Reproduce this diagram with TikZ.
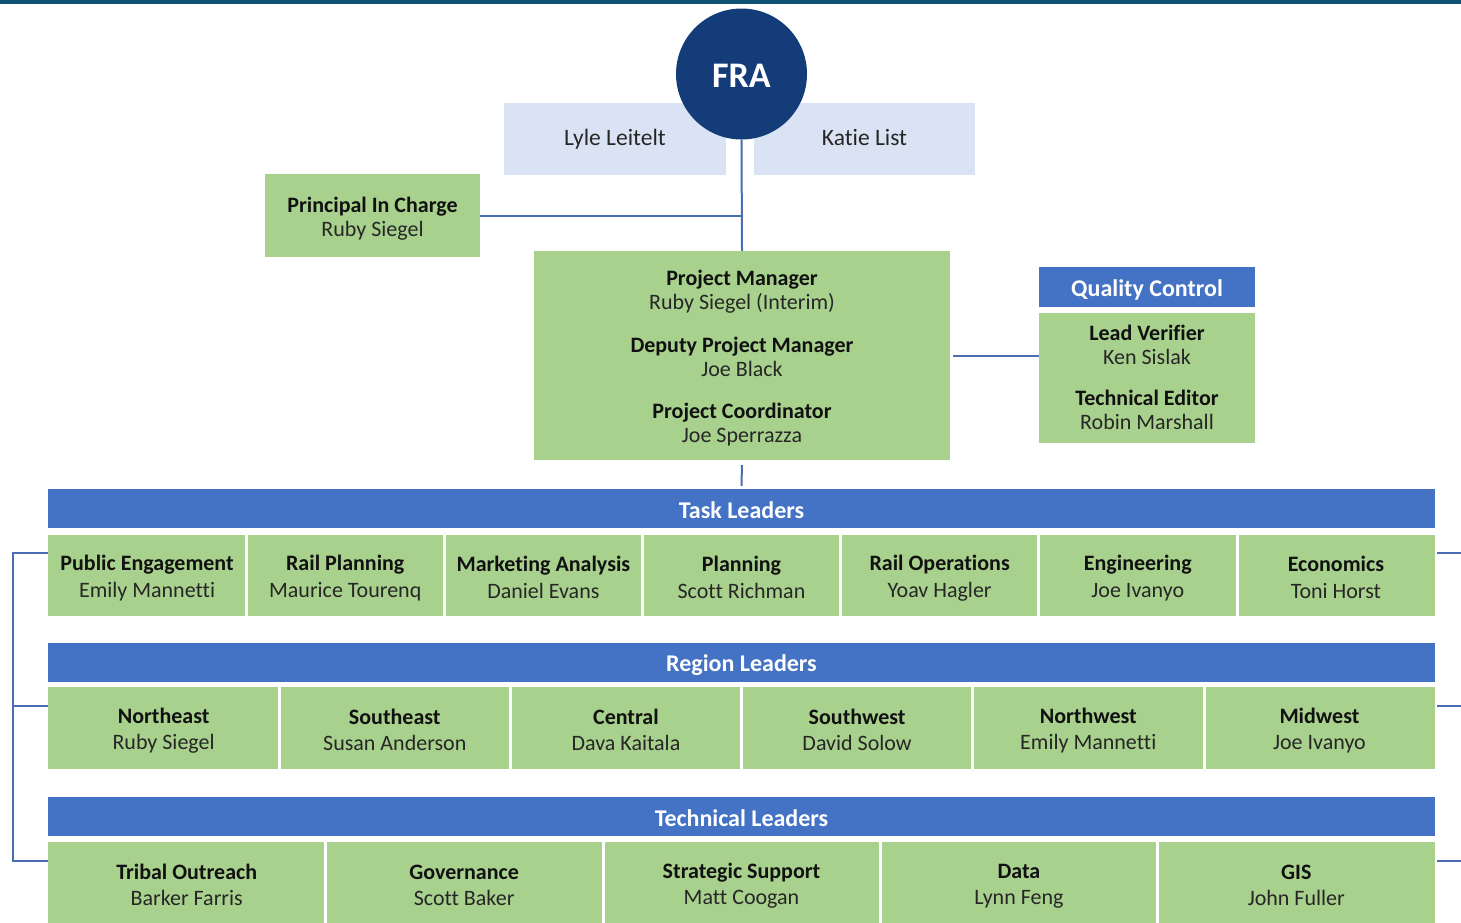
\documentclass[tikz,border=0pt]{standalone}
\usepackage{fontspec}
\setmainfont{Carlito}[Ligatures={NoCommon}]
\definecolor{cgreen}{HTML}{A9D18E}
\definecolor{cblue}{HTML}{4472C4}
\definecolor{cline}{HTML}{4A6DB3}
\definecolor{clight}{HTML}{DAE3F3}
\definecolor{cnavy}{HTML}{133C78}
\definecolor{cbar}{HTML}{0F5272}
\definecolor{ctext}{HTML}{262626}
\definecolor{ctextb}{HTML}{111111}
\newcommand\twoline[2]{\rule{0pt}{21pt}\textcolor{ctextb}{\textbf{#1}}\\#2\rule[-2pt]{0pt}{2pt}}
\newcommand\hstrut{\rule[-2pt]{0pt}{24pt}}
\begin{document}
\begin{tikzpicture}[x=1pt,y=-1pt,
  cellbox/.style={fill=cgreen, inner sep=0pt, align=center, text=ctext, font=\fontsize{22}{26}\selectfont},
  hdr/.style={fill=cblue, inner sep=0pt, text=white, font=\bfseries\fontsize{24}{26}\selectfont},
  lightbox/.style={fill=clight, inner sep=0pt, text=ctext, font=\fontsize{23.5}{26}\selectfont},
  conn/.style={draw=cline, line width=2pt},
  sepline/.style={draw=white, line width=3pt}]
\useasboundingbox (0,0) rectangle (1461,922);
\fill[white] (0,0) rectangle (1461,922);
\fill[cbar] (0,0) rectangle (1461,3.5);

% top
\node[lightbox, minimum width=222pt, minimum height=72pt] (lyle) at (615,139) {\rule[-4pt]{0pt}{20.5pt}Lyle Leitelt};
\node[lightbox, minimum width=221pt, minimum height=72pt] (katie) at (864.5,139) {\rule[-4pt]{0pt}{20.5pt}Katie List};
\node[circle, fill=cnavy, minimum size=131pt, inner sep=0pt, text=white, font=\bfseries\fontsize{36}{38}\selectfont] (fra) at (741.5,74) {\rule{0pt}{27pt}FRA};

\node[cellbox, minimum width=215pt, minimum height=83pt, font=\fontsize{22}{24}\selectfont] (pic) at (372.5,215.5) {\twoline{Principal In Charge}{Ruby Siegel}};

\node[cellbox, minimum width=416pt, minimum height=209pt, font=\fontsize{22}{24}\selectfont] (pm) at (742,355.5)
 {\twoline{Project Manager}{Ruby Siegel (Interim)}\\[17pt]
  \twoline{Deputy Project Manager}{Joe Black}\\[18pt]
  \twoline{Project Coordinator}{Joe Sperrazza}};

\node[hdr, minimum width=216pt, minimum height=40pt] (qch) at (1147,287) {\hstrut Quality Control};
\node[cellbox, minimum width=216pt, minimum height=130pt, font=\fontsize{22}{24}\selectfont] (qcb) at (1147,378)
 {\twoline{Lead Verifier}{Ken Sislak}\\[17pt]
  \rule{0pt}{21pt}\textcolor{ctextb}{\textbf{Technical Editor}}\\Robin Marshall\rule[-8pt]{0pt}{8pt}};

% headers
\node[hdr, minimum width=1387pt, minimum height=39pt] (task) at (741.5,508.5) {\hstrut Task Leaders};
\node[hdr, minimum width=1387pt, minimum height=39pt] (reg) at (741.5,662.5) {\hstrut Region Leaders};
\node[hdr, minimum width=1387pt, minimum height=39pt] (tech) at (741.5,816.5) {\hstrut Technical Leaders};

% task row
\foreach \i/\a/\b in {0/Public Engagement/Emily Mannetti, 1/Rail Planning/Maurice Tourenq,
  2/Marketing Analysis/Daniel Evans, 3/Planning/Scott Richman, 4/Rail Operations/Yoav Hagler,
  5/Engineering/Joe Ivanyo, 6/Economics/Toni Horst}{
  \node[cellbox, minimum width=198.14pt, minimum height=81pt, font=\fontsize{22}{27}\selectfont] (t\i) at ({48+(\i+0.5)*198.14},575.5) {\twoline{\a}{\b}};
}
\foreach \i in {0,...,5}{\draw[sepline] (t\i.north east) -- (t\i.south east);}

% region row
\foreach \i/\a/\b in {0/Northeast/Ruby Siegel, 1/Southeast/Susan Anderson, 2/Central/Dava Kaitala,
  3/Southwest/David Solow, 4/Northwest/Emily Mannetti, 5/Midwest/Joe Ivanyo}{
  \node[cellbox, minimum width=231.17pt, minimum height=82pt] (r\i) at ({48+(\i+0.5)*231.17},728) {\twoline{\a}{\b}};
}
\foreach \i in {0,...,4}{\draw[sepline] (r\i.north east) -- (r\i.south east);}

% technical row
\foreach \i/\a/\b in {0/Tribal Outreach/Barker Farris, 1/Governance/Scott Baker, 2/Strategic Support/Matt Coogan,
  3/Data/Lynn Feng, 4/GIS/John Fuller}{
  \node[cellbox, minimum width=277.4pt, minimum height=82pt] (x\i) at ({48+(\i+0.5)*277.4},882.5) {\twoline{\a}{\b}};
}
\foreach \i in {0,...,3}{\draw[sepline] (x\i.north east) -- (x\i.south east);}

% connectors
\draw[conn] (fra.south) -- (pm.north);
\draw[conn] (pic.east) -- (pic.east -| fra.south);
\draw[conn, shorten <=3pt] (pm.east) -- (qcb.west |- pm.east);
\draw[conn, shorten <=5pt, shorten >=3pt] (pm.south) -- (task.north);

\coordinate (bkt) at (13,553);
\coordinate (bkb) at (13,861);
\draw[conn] ([yshift=22.5pt]t0.west) -- (bkt) -- (bkb) -- ([yshift=21.5pt]x0.west);
\draw[conn] ([yshift=22pt]r0.west) -| (bkt);

\draw[conn, shorten <=2pt] ([yshift=22.5pt]t6.east) -- ++(28,0);
\draw[conn, shorten <=2pt] ([yshift=22pt]r5.east) -- ++(28,0);
\draw[conn, shorten <=2pt] ([yshift=21.5pt]x4.east) -- ++(28,0);
\end{tikzpicture}
\end{document}
